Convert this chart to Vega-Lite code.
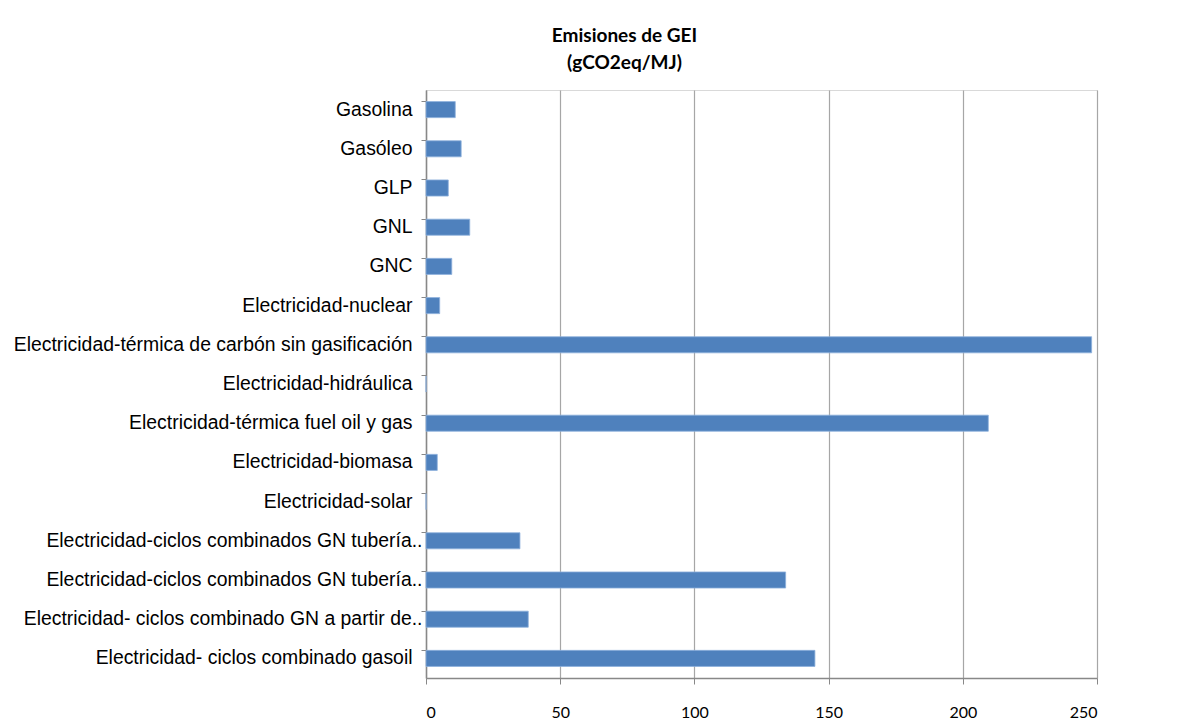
{
  "$schema": "https://vega.github.io/schema/vega-lite/v6.json",
  "autosize": "none",
  "width": 671,
  "height": 588,
  "padding": {"left": 426, "top": 90, "right": 93, "bottom": 42},
  "background": "white",
  "title": {
    "text": ["Emisiones de GEI", "(gCO2eq/MJ)"],
    "font": "Lato",
    "fontWeight": "bold",
    "fontSize": 19,
    "lineHeight": 27,
    "color": "#000000",
    "anchor": "middle",
    "frame": "group",
    "dx": -137,
    "offset": 17
  },
  "data": {
    "values": [
      {"fuente": "Gasolina", "orden": 1, "valor": 10.9},
      {"fuente": "Gasóleo", "orden": 2, "valor": 13.1},
      {"fuente": "GLP", "orden": 3, "valor": 8.3},
      {"fuente": "GNL", "orden": 4, "valor": 16.3},
      {"fuente": "GNC", "orden": 5, "valor": 9.6},
      {"fuente": "Electricidad-nuclear", "orden": 6, "valor": 5.1},
      {"fuente": "Electricidad-térmica de carbón sin gasificación", "orden": 7, "valor": 248.0},
      {"fuente": "Electricidad-hidráulica", "orden": 8, "valor": 0},
      {"fuente": "Electricidad-térmica fuel oil y gas", "orden": 9, "valor": 209.5},
      {"fuente": "Electricidad-biomasa", "orden": 10, "valor": 4.2},
      {"fuente": "Electricidad-solar", "orden": 11, "valor": 0},
      {"fuente": "Electricidad-ciclos combinados GN tubería..", "orden": 12, "valor": 35.0},
      {"fuente": "Electricidad-ciclos combinados GN tubería.. ", "orden": 13, "valor": 134.0},
      {"fuente": "Electricidad- ciclos combinado GN a partir de..", "orden": 14, "valor": 38.1},
      {"fuente": "Electricidad- ciclos combinado gasoil", "orden": 15, "valor": 144.9}
    ]
  },
  "mark": {"type": "bar", "color": "#4F81BD", "stroke": "#8DB0DC", "strokeWidth": 0.8},
  "encoding": {
    "y": {
      "field": "fuente",
      "type": "nominal",
      "sort": {"field": "orden", "order": "ascending"},
      "scale": {"paddingInner": 0.59, "paddingOuter": 0.295},
      "axis": {
        "title": null,
        "bandPosition": 0,
        "tickSize": 5,
        "tickColor": "#888888",
        "domainColor": "#888888",
        "domainWidth": 1.5,
        "labelFont": "Liberation Sans",
        "labelFontSize": 19.4,
        "labelColor": "#000000",
        "labelPadding": {"condition": {"test": "slice(trim(datum.value), -2) === '..'", "value": -1}, "value": 9},
        "labelLimit": 0,
        "grid": false
      }
    },
    "x": {
      "field": "valor",
      "type": "quantitative",
      "scale": {"domain": [0, 250], "nice": false},
      "axis": {
        "title": null,
        "values": [0, 50, 100, 150, 200, 250],
        "grid": true,
        "gridColor": "#A6A6A6",
        "gridWidth": 1.2,
        "tickSize": 6,
        "tickColor": "#888888",
        "domainColor": "#888888",
        "domainWidth": 1.5,
        "labelFont": "Lato",
        "labelFontSize": 16,
        "labelColor": "#000000",
        "labelPadding": 20
      }
    }
  },
  "config": {
    "view": {"stroke": "#D9D9D9", "strokeWidth": 1}
  }
}
